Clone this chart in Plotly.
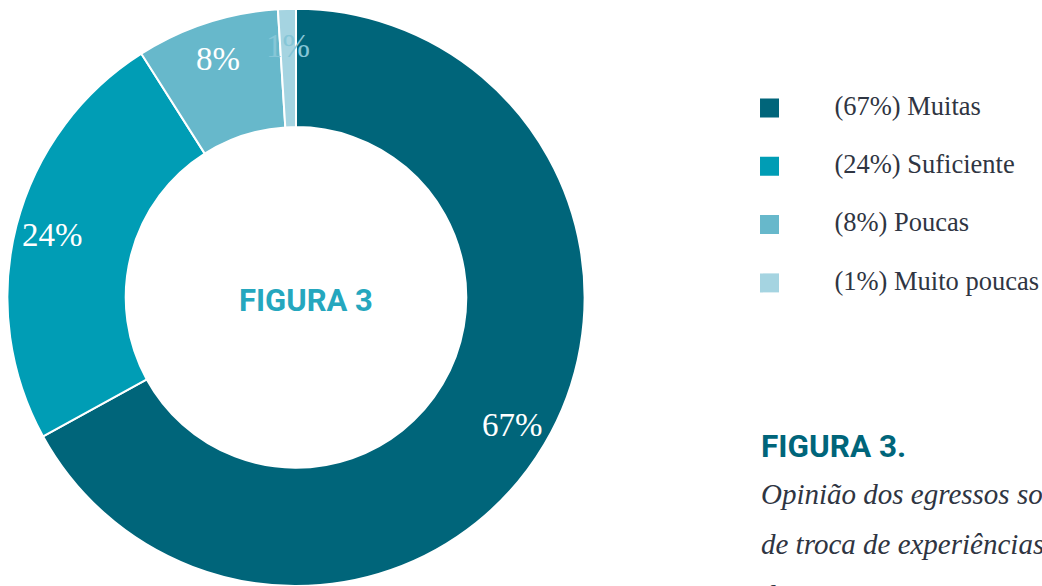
import math
import plotly.graph_objects as go

categories = ["Muitas", "Suficiente", "Poucas", "Muito poucas"]
values = [67, 24, 8, 1]
colors = ["#00657a", "#009db5", "#67b8cb", "#a5d4e1"]
label_colors = ["#ffffff", "#ffffff", "#ffffff", "#86c6d7"]
legend_labels = [f"({v}%) {c}" for v, c in zip(values, categories)]

W, H = 1042, 586
pie_dom_x = [7 / W, 585 / W]
pie_dom_y = [0.0, 0.985]

fig = go.Figure()

fig.add_trace(go.Pie(
    labels=categories,
    values=values,
    sort=False,
    direction="clockwise",
    rotation=0,
    hole=0.59,
    marker=dict(colors=colors, line=dict(color="white", width=2)),
    textinfo="none",
    showlegend=False,
    domain=dict(x=pie_dom_x, y=pie_dom_y),
    hoverinfo="label+percent",
))

# Percentage labels placed along each slice's mid-angle
cx = (pie_dom_x[0] + pie_dom_x[1]) / 2 * W
cy = (1 - (pie_dom_y[0] + pie_dom_y[1]) / 2) * H
R = min((pie_dom_x[1] - pie_dom_x[0]) * W, (pie_dom_y[1] - pie_dom_y[0]) * H) / 2
r_text = 0.87 * R
total = sum(values)
annotations = []
cum = 0
for v, col in zip(values, label_colors):
    mid = (cum + v / 2) / total * 2 * math.pi
    cum += v
    px = cx + r_text * math.sin(mid)
    py = cy - r_text * math.cos(mid)
    annotations.append(dict(
        text=f"{v}%", x=px / W, y=1 - py / H, xref="paper", yref="paper",
        xanchor="center", yanchor="middle", showarrow=False,
        font=dict(family="Liberation Serif", size=33, color=col),
    ))

# Custom legend (square markers + labels)
idx = list(range(len(categories)))
fig.add_trace(go.Scatter(
    x=[0] * len(idx), y=idx, mode="markers",
    marker=dict(symbol="square", size=19, color=colors, line=dict(width=0)),
    xaxis="x2", yaxis="y2", showlegend=False, hoverinfo="skip",
))
fig.add_trace(go.Scatter(
    x=[1] * len(idx), y=idx, mode="text",
    text=legend_labels, textposition="middle right",
    textfont=dict(family="Liberation Serif", size=26.5, color="#2f3542"),
    xaxis="x2", yaxis="y2", showlegend=False, hoverinfo="skip",
))

annotations += [
    dict(text="<b>FIGURA 3</b>", x=306 / W, y=1 - 300 / H, xref="paper", yref="paper",
         xanchor="center", yanchor="middle", showarrow=False,
         font=dict(family="Roboto", size=31, color="#25a7be")),
    dict(text="<b>FIGURA 3.</b>", x=759 / W, y=1 - 446 / H, xref="paper", yref="paper",
         xanchor="left", yanchor="middle", showarrow=False,
         font=dict(family="Roboto", size=31.5, color="#00657a")),
    dict(text="<i>Opinião dos egressos sobre as oportunidades</i>", x=759 / W, y=1 - 494 / H,
         xref="paper", yref="paper", xanchor="left", yanchor="middle", showarrow=False,
         font=dict(family="Liberation Serif", size=29, color="#2f3542")),
    dict(text="<i>de troca de experiências com colegas</i>", x=759 / W, y=1 - 544 / H,
         xref="paper", yref="paper", xanchor="left", yanchor="middle", showarrow=False,
         font=dict(family="Liberation Serif", size=29, color="#2f3542")),
    dict(text="<i>durante o curso.</i>", x=759 / W, y=1 - 595 / H,
         xref="paper", yref="paper", xanchor="left", yanchor="middle", showarrow=False,
         font=dict(family="Liberation Serif", size=29, color="#2f3542")),
]

fig.update_layout(
    width=W, height=H,
    margin=dict(l=0, r=0, t=0, b=0),
    paper_bgcolor="white",
    plot_bgcolor="rgba(0,0,0,0)",
    xaxis2=dict(domain=[0.70, 1.0], range=[-0.618, 4.199], visible=False, fixedrange=True),
    yaxis2=dict(domain=[0.4675, 0.8654], range=[3.5, -0.5], visible=False, fixedrange=True),
    xaxis=dict(visible=False), yaxis=dict(visible=False),
    annotations=annotations,
)

fig.write_html(
    "out.html",
    config={"displayModeBar": False},
    post_script="document.body.style.margin='0';document.body.style.overflow='hidden';",
)
